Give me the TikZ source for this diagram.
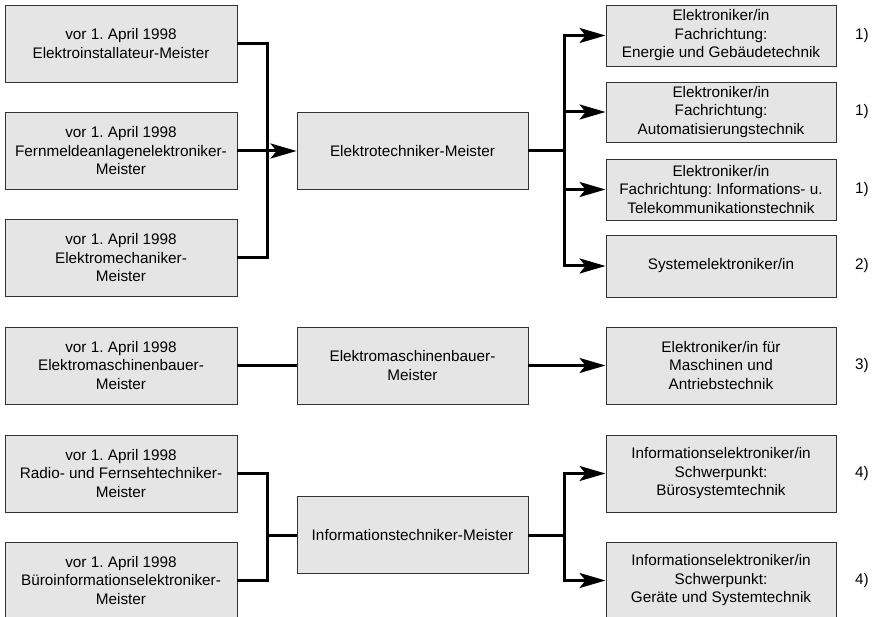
\documentclass[tikz,border=0pt]{standalone}
\usepackage{fontspec}
\setmainfont{Liberation Sans}
\frenchspacing
\usetikzlibrary{arrows.meta}
\begin{document}
\begin{tikzpicture}[x=1pt,y=-1pt,
  box/.style={draw=black!80,line width=0.9pt,fill=black!10,align=center,inner sep=0pt,
    font=\fontsize{15.3}{18.5}\selectfont},
  lbox/.style={box,minimum width=232pt,minimum height=77pt},
  mbox/.style={box,minimum width=231pt,minimum height=77pt},
  rbox/.style={box,minimum width=230pt},
  conn/.style={line width=3pt,line join=miter},
  arr/.style={conn,-{Stealth[length=26pt,width=15pt,inset=6pt]}},
  note/.style={font=\fontsize{15.3}{18.5}\selectfont}]
\useasboundingbox (0,0) rectangle (876,617);
\clip (0,0) rectangle (876,617);
% left
\node[lbox] (L1) at (121,43.5) {vor 1. April 1998\\Elektroinstallateur-Meister};
\node[lbox] (L2) at (121,151) {vor 1. April 1998\\Fernmeldeanlagenelektroniker-\\Meister};
\node[lbox] (L3) at (121,258) {vor 1. April 1998\\Elektromechaniker-\\Meister};
\node[lbox] (L4) at (121,365.5) {vor 1. April 1998\\Elektromaschinenbauer-\\Meister};
\node[lbox] (L5) at (121,473.5) {vor 1. April 1998\\Radio- und Fernsehtechniker-\\Meister};
\node[lbox] (L6) at (121,580.5) {vor 1. April 1998\\Büroinformationselektroniker-\\Meister};
% middle
\node[mbox] (M1) at (412.5,151) {Elektrotechniker-Meister};
\node[mbox] (M2) at (412.5,365.5) {Elektromaschinenbauer-\\Meister};
\node[mbox] (M3) at (412.5,535) {Informationstechniker-Meister};
% right
\node[rbox,minimum height=61pt] (R1) at (721,35.5) {Elektroniker/in\\Fachrichtung:\\Energie und Gebäudetechnik};
\node[rbox,minimum height=60pt] (R2) at (721,112) {Elektroniker/in\\Fachrichtung:\\Automatisierungstechnik};
\node[rbox,minimum height=61pt] (R3) at (721,189.5) {Elektroniker/in\\Fachrichtung: Informations- u.\\Telekommunikationstechnik};
\node[rbox,minimum height=62pt] (R4) at (721,266) {Systemelektroniker/in};
\node[rbox,minimum height=77pt] (R5) at (721,365.5) {Elektroniker/in für\\Maschinen und\\Antriebstechnik};
\node[rbox,minimum height=77pt] (R6) at (721,473.5) {Informationselektroniker/in\\Schwerpunkt:\\Bürosystemtechnik};
\node[rbox,minimum height=77pt] (R7) at (721,580.5) {Informationselektroniker/in\\Schwerpunkt:\\Geräte und Systemtechnik};
% notes
\node[note] (n1) at (862,35.5) {1)};
\node[note] (n2) at (862,112) {1)};
\node[note] (n3) at (862,189.5) {1)};
\node[note] (n4) at (862,266) {2)};
\node[note] (n5) at (862,365.5) {3)};
\node[note] (n6) at (862,473.5) {4)};
\node[note] (n7) at (862,580.5) {4)};
% junctions
\coordinate (J1) at (267,151);
\coordinate (J2) at (564,151);
\coordinate (J3) at (267,535);
\coordinate (J4) at (564,535);
% connectors group 1
\draw[conn] (L1.east) -| (J1) |- (L3.east);
\draw[arr] (L2.east) -- (M1.west);
\draw[conn] (M1.east) -- (J2);
\draw[arr] (J2) |- (R1.west);
\draw[arr] (J2) |- (R2.west);
\draw[arr] (J2) |- (R3.west);
\draw[arr] (J2) |- (R4.west);
% group 2
\draw[conn] (L4.east) -- (M2.west);
\draw[arr] (M2.east) -- (R5.west);
% group 3
\draw[conn] (L5.east) -| (J3) |- (L6.east);
\draw[conn] (J3) -- (M3.west);
\draw[conn] (M3.east) -- (J4);
\draw[arr] (J4) |- (R6.west);
\draw[arr] (J4) |- (R7.west);
\end{tikzpicture}
\end{document}
